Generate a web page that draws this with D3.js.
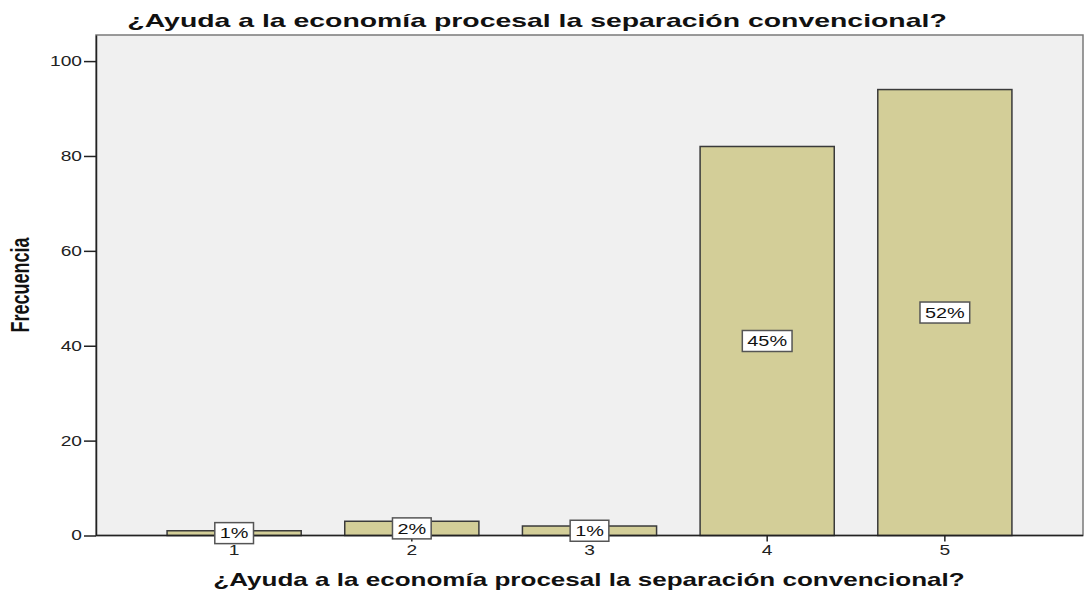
<!DOCTYPE html>
<html><head><meta charset="utf-8">
<script src="https://cdn.jsdelivr.net/npm/d3@7"></script>
<style>body{margin:0;background:#fff}svg{display:block}text{font-family:"Liberation Sans",Arial,sans-serif}</style>
</head><body><svg id="c" width="1086" height="595"></svg>
<script>
const categories = ["1","2","3","4","5"];
const values = [1, 3, 2, 82, 94];
const percentLabels = ["1%","2%","1%","45%","52%"];
const yTicks = [0,20,40,60,80,100];
const titleText = "¿Ayuda a la economía procesal la separación convencional?";
const xTitleText = "¿Ayuda a la economía procesal la separación convencional?";
const yTitleText = "Frecuencia";

const SX = 1.37;
const svg = d3.select("#c");
const L = 96, R = 1083, T = 35, B = 535.5;

const x = d3.scaleBand().domain(categories).range([L, R]).paddingInner(0.245).paddingOuter(0.4);
const y = d3.scaleLinear().domain([0, 105.5]).range([B, T]);

svg.append("rect").attr("x", L).attr("y", T).attr("width", R - L).attr("height", B - T)
  .attr("fill", "#f0f0f0").attr("stroke", "#7a7a7a").attr("stroke-width", 1.5);

svg.selectAll("rect.bar").data(values).join("rect").attr("class","bar")
  .attr("x", (d,i) => x(categories[i]))
  .attr("y", d => y(d))
  .attr("width", x.bandwidth())
  .attr("height", d => B - y(d))
  .attr("fill", "#d3ce98").attr("stroke", "#3a3a3a").attr("stroke-width", 1.5);

// y axis
const ya = svg.append("g").attr("transform", `translate(${L},0)`)
  .call(d3.axisLeft(y).tickValues(yTicks).tickSize(12).tickPadding(2).tickSizeOuter(0));
ya.select(".domain").attr("stroke", "#222").attr("stroke-width", 1.5);
ya.selectAll(".tick line").attr("stroke", "#222").attr("stroke-width", 1.5);
ya.selectAll(".tick text").each(function(){
  const t = d3.select(this);
  const xx = +t.attr("x");
  t.attr("x", xx / SX).attr("transform", `scale(${SX},1)`)
   .attr("font-size", 14).attr("fill", "#222").attr("font-family", null);
});

// x axis
const xa = svg.append("g").attr("transform", `translate(0,${B})`)
  .call(d3.axisBottom(x).tickSize(6).tickPadding(4).tickSizeOuter(0));
xa.select(".domain").attr("stroke", "#222").attr("stroke-width", 1.5).attr("d", `M${L},0H${R}`);
xa.selectAll(".tick line").attr("stroke", "#222").attr("stroke-width", 1.5);
xa.selectAll(".tick text").attr("transform", `scale(${SX},1)`).attr("font-size", 14).attr("fill","#222").attr("font-family", null);

// value labels
const lg = svg.selectAll("g.lbl").data(values).join("g").attr("class","lbl")
  .attr("transform", (d,i) => `translate(${x(categories[i]) + x.bandwidth()/2},${y(d/2)})`);
lg.each(function(d,i){
  const g = d3.select(this);
  const txt = g.append("text").text(percentLabels[i]).attr("font-size", 14.5)
    .attr("text-anchor","middle").attr("dy","0.36em").attr("fill","#111")
    .attr("transform", `scale(${SX},1)`);
  const w = txt.node().getComputedTextLength() * SX + 10;
  const h = 21;
  g.insert("rect", "text").attr("x", -w/2).attr("y", -h/2).attr("width", w).attr("height", h)
    .attr("fill", "#fff").attr("stroke", "#555").attr("stroke-width", 1.5);
});

function fitText(sel, target){
  const w = sel.node().getComputedTextLength();
  return target / w;
}
// title
const tt = svg.append("text").text(titleText).attr("font-size", 18).attr("font-weight","bold")
  .attr("text-anchor","middle").attr("fill","#111");
const s1 = fitText(tt, 820);
tt.attr("transform", `translate(537,27) scale(${s1},1)`);

// x title
const xt = svg.append("text").text(xTitleText).attr("font-size", 18).attr("font-weight","bold")
  .attr("text-anchor","middle").attr("fill","#111");
const s2 = fitText(xt, 752);
xt.attr("transform", `translate(589,586) scale(${s2},1)`);

// y title
svg.append("text").text(yTitleText).attr("font-size", 18).attr("font-weight","bold")
  .attr("text-anchor","middle").attr("fill","#111")
  .attr("transform", `translate(29,285) scale(1.4,1) rotate(-90)`);
</script></body></html>
